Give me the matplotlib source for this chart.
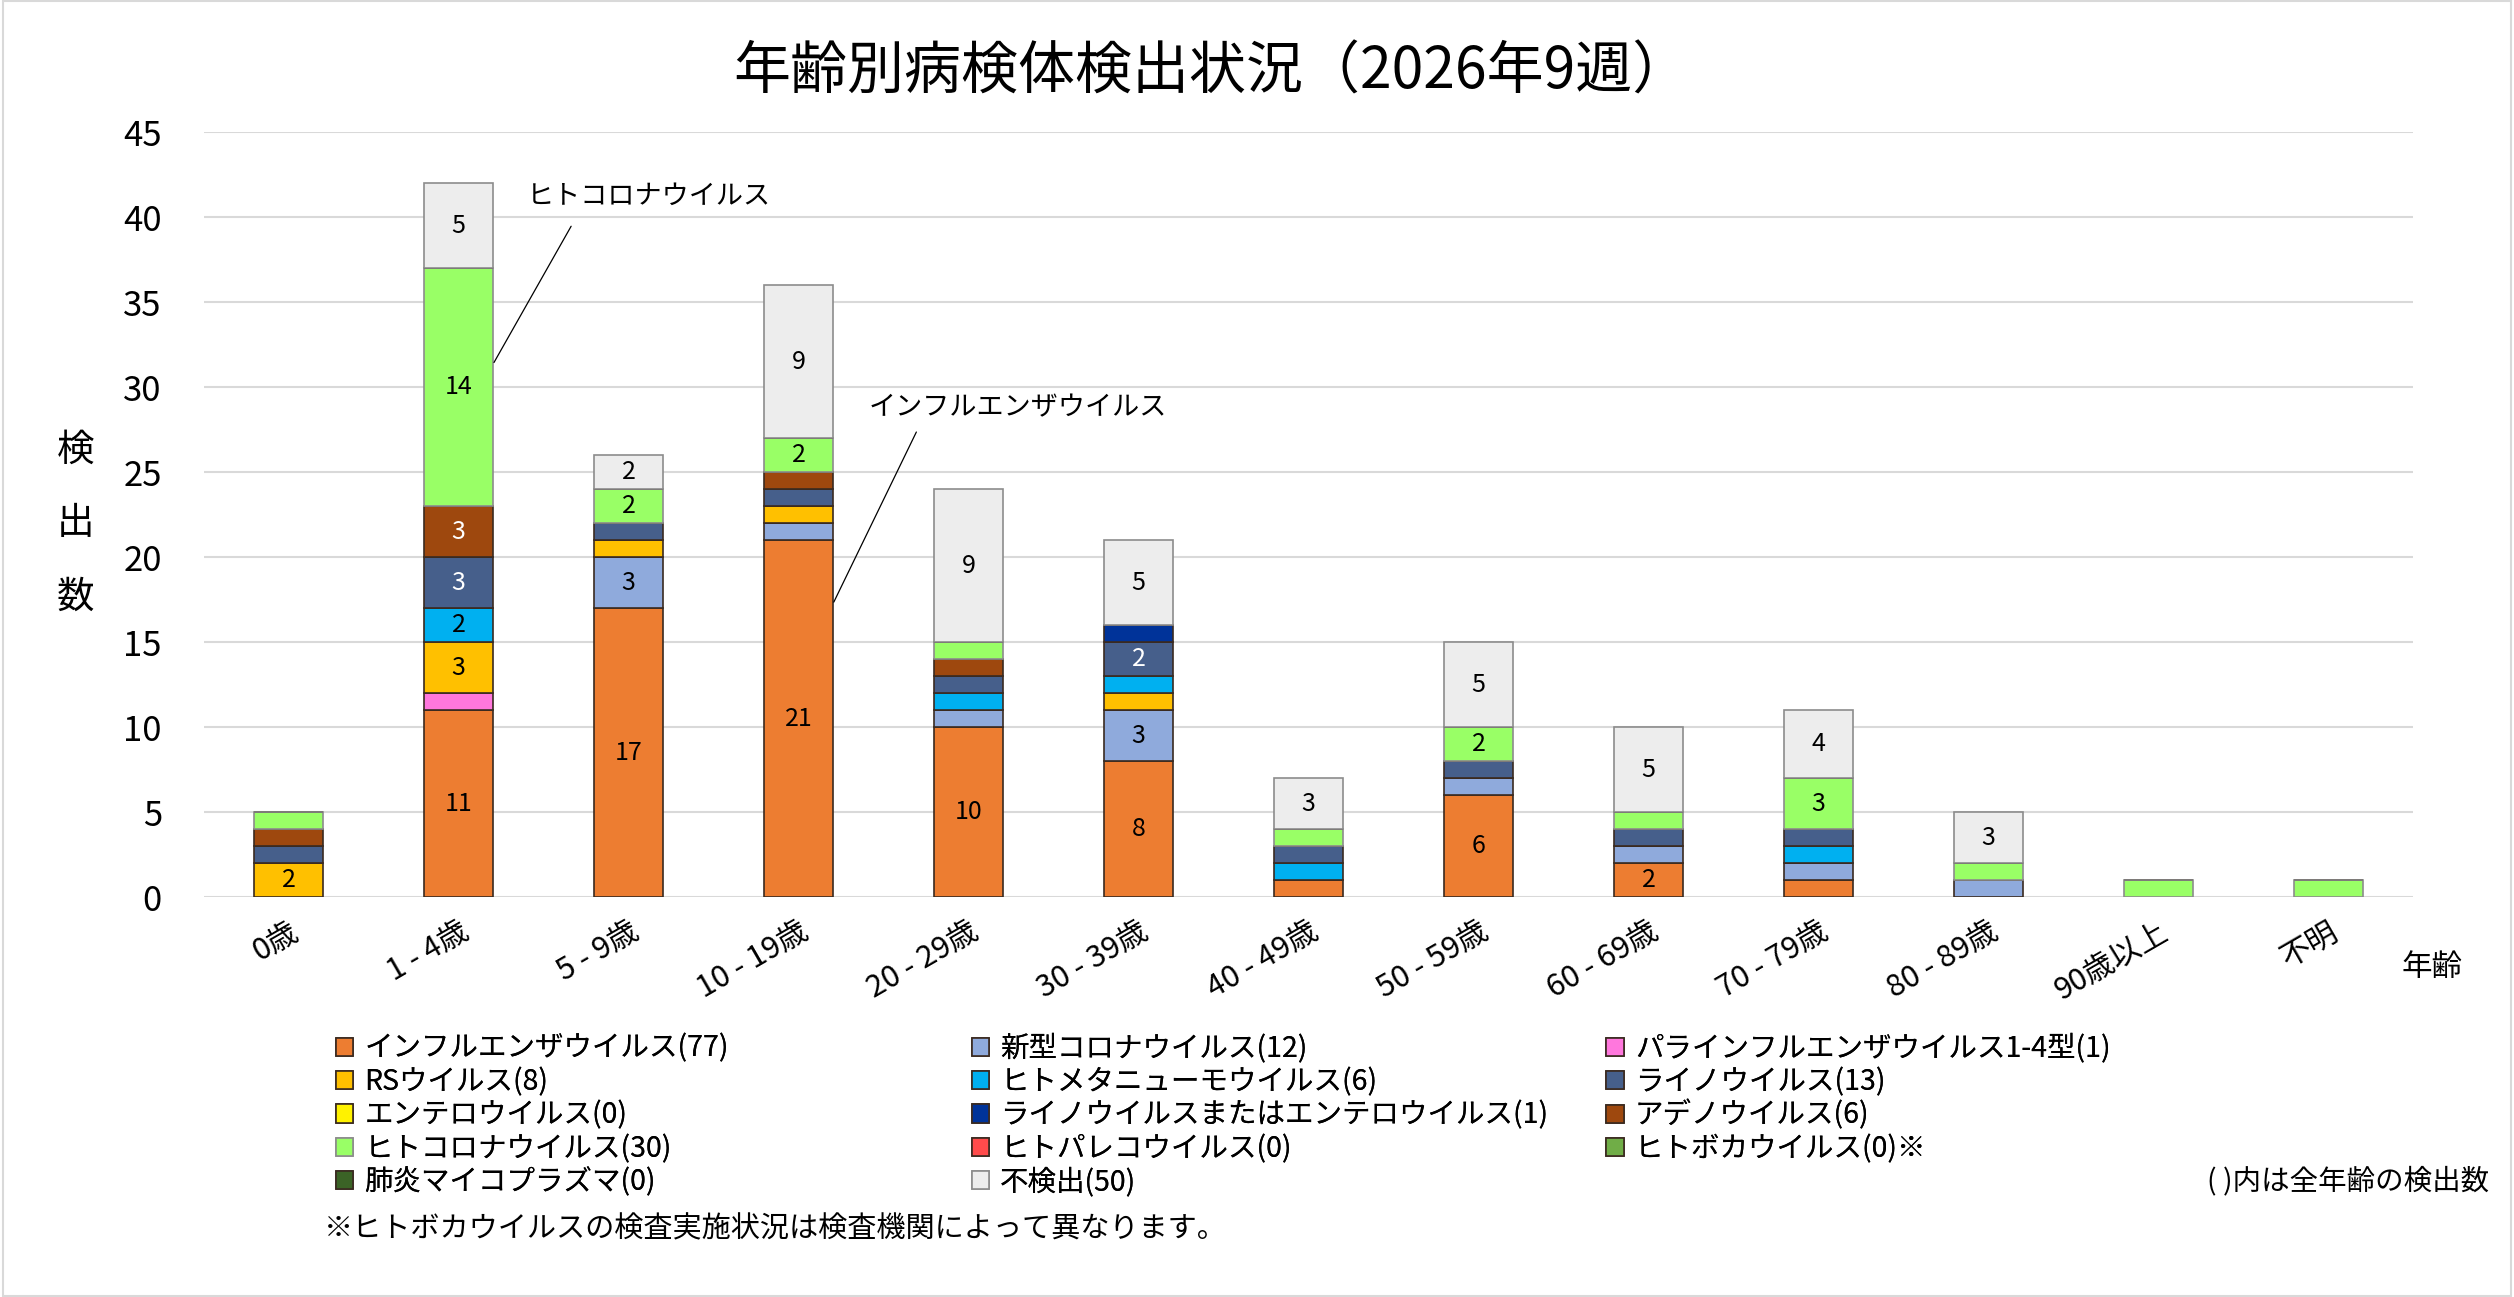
import numpy as np
import matplotlib
matplotlib.use("Agg")
import matplotlib.pyplot as plt
from matplotlib.patches import Rectangle

plt.rcParams['font.family'] = ['Noto Sans CJK JP', 'DejaVu Sans']

# %%
# age groups
ages = ["0歳", "1 - 4歳", "5 - 9歳", "10 - 19歳", "20 - 29歳", "30 - 39歳",
        "40 - 49歳", "50 - 59歳", "60 - 69歳", "70 - 79歳", "80 - 89歳",
        "90歳以上", "不明"]

# detections per age group (stack order bottom -> top)
flu        = [0, 11, 17, 21, 10, 8, 1, 6, 2, 1, 0, 0, 0]
covid      = [0, 0, 3, 1, 1, 3, 0, 1, 1, 1, 1, 0, 0]
para       = [0, 1, 0, 0, 0, 0, 0, 0, 0, 0, 0, 0, 0]
rsv        = [2, 3, 1, 1, 0, 1, 0, 0, 0, 0, 0, 0, 0]
hmpv       = [0, 2, 0, 0, 1, 1, 1, 0, 0, 1, 0, 0, 0]
rhino      = [1, 3, 1, 1, 1, 2, 1, 1, 1, 1, 0, 0, 0]
entero     = [0, 0, 0, 0, 0, 0, 0, 0, 0, 0, 0, 0, 0]
rhino_ent  = [0, 0, 0, 0, 0, 1, 0, 0, 0, 0, 0, 0, 0]
adeno      = [1, 3, 0, 1, 1, 0, 0, 0, 0, 0, 0, 0, 0]
hcov       = [1, 14, 2, 2, 1, 0, 1, 2, 1, 3, 1, 1, 1]
hpev       = [0, 0, 0, 0, 0, 0, 0, 0, 0, 0, 0, 0, 0]
boca       = [0, 0, 0, 0, 0, 0, 0, 0, 0, 0, 0, 0, 0]
myco       = [0, 0, 0, 0, 0, 0, 0, 0, 0, 0, 0, 0, 0]
notfound   = [0, 5, 2, 9, 9, 5, 3, 5, 5, 4, 3, 0, 0]

series = [flu, covid, para, rsv, hmpv, rhino, entero, rhino_ent,
          adeno, hcov, hpev, boca, myco, notfound]
names = ["インフルエンザウイルス(77)", "新型コロナウイルス(12)", "パラインフルエンザウイルス1-4型(1)",
         "RSウイルス(8)", "ヒトメタニューモウイルス(6)", "ライノウイルス(13)",
         "エンテロウイルス(0)", "ライノウイルスまたはエンテロウイルス(1)", "アデノウイルス(6)",
         "ヒトコロナウイルス(30)", "ヒトパレコウイルス(0)", "ヒトボカウイルス(0)※",
         "肺炎マイコプラズマ(0)", "不検出(50)"]
colors = ["#ED7D31", "#8FAADC", "#FF77DD", "#FFC000", "#00B0F0", "#465F8B",
          "#FFF200", "#003399", "#9E480E", "#99FF66", "#FF4B4B", "#70AD47",
          "#3B6326", "#EDEDED"]
edges = ["#3A2A20"] * 9 + ["#8C8C8C", "#3A2A20", "#3A2A20", "#3A2A20", "#8C8C8C"]
label_colors = ["black"] * 5 + ["white", "black", "white", "white"] + ["black"] * 5

# %%
fig = plt.figure(figsize=(25.14, 12.97), dpi=100)
ax = fig.add_axes([0.081, 0.3084, 0.879, 0.5898])

x = np.arange(len(ages))
bottom = np.zeros(len(ages))
handles = []
for vals, name, c, ec, lc in zip(series, names, colors, edges, label_colors):
    vals = np.array(vals, dtype=float)
    bars = ax.bar(x, vals, 0.406, bottom=bottom, color=c, edgecolor=ec,
                  linewidth=1.2, label=name, zorder=3)
    for xi, v, b in zip(x, vals, bottom):
        if v >= 2:
            ax.text(xi, b + v / 2, f"{int(v)}", ha="center", va="center",
                    fontsize=18, color=lc, zorder=4)
    bottom += vals
    handles.append(bars)

ax.set_xlim(-0.5, len(ages) - 0.5)
ax.set_ylim(0, 45)
ax.set_yticks(np.arange(0, 46, 5))
ax.tick_params(axis="y", labelsize=25, length=0, pad=30)
ax.tick_params(axis="x", length=0, pad=14)
ax.set_xticks(x)
ax.set_xticklabels(ages, fontsize=22, rotation=30, ha="right",
                   rotation_mode="anchor")
ax.grid(axis="y", color="#D9D9D9", linewidth=1.5, zorder=0)
for s in ax.spines.values():
    s.set_visible(False)

# annotations
ax.text(1.40, 41.2, "ヒトコロナウイルス", fontsize=19.5, va="center", ha="left")
ax.annotate("", xy=(1.2, 31.3), xytext=(1.67, 39.6),
            arrowprops=dict(arrowstyle="-", color="black", lw=0.9))
ax.text(3.41, 28.8, "インフルエンザウイルス", fontsize=19.5, va="center", ha="left")
ax.annotate("", xy=(3.2, 17.2), xytext=(3.70, 27.5),
            arrowprops=dict(arrowstyle="-", color="black", lw=0.9))

# axis titles
fig.text(0.030, 0.596, "検\n出\n数", fontsize=27, ha="center", va="center",
         linespacing=2.15)
fig.text(0.9675, 0.254, "年齢", fontsize=22, ha="center", va="center")
fig.text(0.482, 0.944, "年齢別病検体検出状況（2026年9週）", fontsize=41,
         ha="center", va="center")

# legend: three columns, filled row by row like the original
col_idx = [[0, 3, 6, 9, 12], [1, 4, 7, 10, 13], [2, 5, 8, 11]]
col_x = [0.1336, 0.3865, 0.6390]
for idx, cx in zip(col_idx, col_x):
    leg = fig.legend([handles[i] for i in idx], [names[i] for i in idx],
                     loc="upper left", bbox_to_anchor=(cx, 0.203),
                     frameon=False, fontsize=20.5, handlelength=0.6,
                     handleheight=0.6, handletextpad=0.4, labelspacing=0.12,
                     borderaxespad=0, borderpad=0)
    fig.add_artist(leg)

fig.text(0.990, 0.089, "( )内は全年齢の検出数", fontsize=20.5, ha="right", va="center")
fig.text(0.129, 0.052, "※ヒトボカウイルスの検査実施状況は検査機関によって異なります。",
         fontsize=21, ha="left", va="center")

# chart border
fig.patches.append(Rectangle((0.001, 0.001), 0.998, 0.998, transform=fig.transFigure,
                             fill=False, edgecolor="#D9D9D9", linewidth=1.5))

fig.savefig("out.png", dpi=100)
